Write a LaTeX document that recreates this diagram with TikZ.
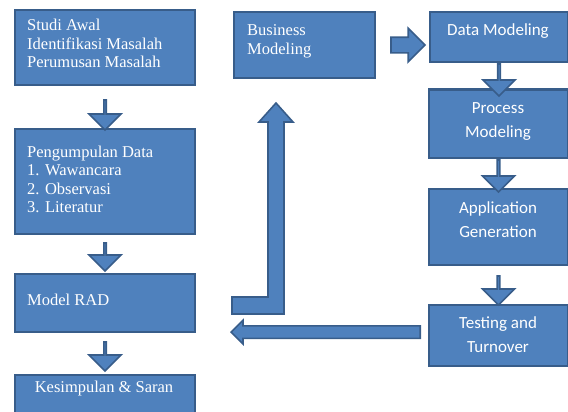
\documentclass[tikz,border=0pt]{standalone}
\usepackage{fontspec}
\setmainfont{Liberation Serif}
\newfontfamily\calibfont{Carlito}
\usetikzlibrary{calc,shapes.arrows,positioning}
\definecolor{boxblue}{HTML}{4F81BD}
\definecolor{boxline}{HTML}{385D8A}

\begin{document}
\begin{tikzpicture}[x=1pt,y=-1pt,
  blok/.style={draw=boxline,fill=boxblue,line width=2.2pt,inner sep=0pt,anchor=north west},
  blokarrow/.style={single arrow,draw=boxline,fill=boxblue,line width=1.6pt,inner xsep=0pt,inner ysep=6pt,
    minimum width=32pt,single arrow head extend=10pt,anchor=tail},
  txtserif/.style={text=white,align=left,inner sep=0pt,font=\fontsize{16.5}{18.5}\selectfont},
  txtsans/.style={text=white,align=center,inner sep=0pt,font=\calibfont\fontsize{17}{24}\selectfont}]
\useasboundingbox (0,0) rectangle (568,412);
\clip (0,0) rectangle (568,412);

% left column
\node[blok,minimum width=180pt,minimum height=75pt] (studi) at (14,9) {};
\node[blok,minimum width=180pt,minimum height=105pt] (kumpul) at (14,128) {};
\node[blok,minimum width=180pt,minimum height=58pt] (rad) at (14,273) {};
\node[blok,minimum width=180pt,minimum height=45pt] (simpul) at (14,374) {};

% RAD cycle
\node[blok,minimum width=141pt,minimum height=66pt] (bisnis) at (233,11) {};
\node[blok,minimum width=138pt,minimum height=50pt] (datamod) at (429,11) {};
\node[blok,minimum width=139pt,minimum height=68.5pt] (prosesmod) at (428,88.5) {};
\node[blok,minimum width=139pt,minimum height=76pt] (aplikasi) at (428,188) {};
\node[blok,minimum width=139pt,minimum height=61pt] (testing) at (428,304) {};

% block arrows
\node[blokarrow,shape border rotate=270,minimum height=30pt] (ar1) at ($(studi.south)+(0,13)$) {};
\node[blokarrow,shape border rotate=270,minimum height=28pt] (ar2) at ($(kumpul.south)+(0,7)$) {};
\node[blokarrow,shape border rotate=270,minimum height=29pt] (ar3) at ($(rad.south)+(0,8)$) {};
\node[blokarrow,minimum height=34pt,inner ysep=7pt,single arrow head extend=9pt] (ar4) at ($(bisnis.east)+(14,0)$) {};
\node[blokarrow,shape border rotate=270,minimum height=32pt,inner ysep=7pt,single arrow head extend=9pt] (ar5) at (datamod.south) {};
\node[blokarrow,shape border rotate=270,minimum height=32pt,inner ysep=7pt,single arrow head extend=9pt] (ar6) at (prosesmod.south) {};
\node[blokarrow,shape border rotate=270,minimum height=29pt,inner ysep=7pt,single arrow head extend=9pt] (ar7) at ($(aplikasi.south)+(0,9)$) {};
\node[blokarrow,shape border rotate=180,minimum height=189pt,minimum width=22pt,
  inner ysep=5.5pt,single arrow head extend=5.5pt] (ar8) at ($(testing.west)+(-7,-3.5)$) {};
% L shaped arrow back up to business modeling
\draw[draw=boxline,fill=boxblue,line width=1.6pt,line join=miter]
  (232,297) -- (268,297) -- (268,122) -- (259,122) -- (276,103) -- (293,122)
  -- (284,122) -- (284,314) -- (232,314) -- cycle;

% texts
\node[txtserif,anchor=west] (t-studi) at (27,43.5) {Studi Awal\\Identifikasi Masalah\\Perumusan Masalah};
\node[txtserif,anchor=west] (t-kumpul) at (27,179.5) {Pengumpulan Data\\1. Wawancara\\2. Observasi\\3. Literatur};
\node[txtserif,anchor=west] (t-rad) at (27,300) {Model RAD};
\node[txtserif] (t-simpul) at (104,389) {Kesimpulan \& Saran};
\node[txtserif,anchor=west,font=\fontsize{16.5}{19}\selectfont] (t-bisnis) at (247,41.5) {Business\\Modeling};
\node[txtsans] (t-data) at (498,31) {Data Modeling};
\node[txtsans] (t-proses) at (498,122) {Process\\Modeling};
\node[txtsans] (t-aplikasi) at (498,220) {Application\\Generation};
\node[txtsans] (t-testing) at (498,335) {Testing and\\Turnover};
\end{tikzpicture}
\end{document}
